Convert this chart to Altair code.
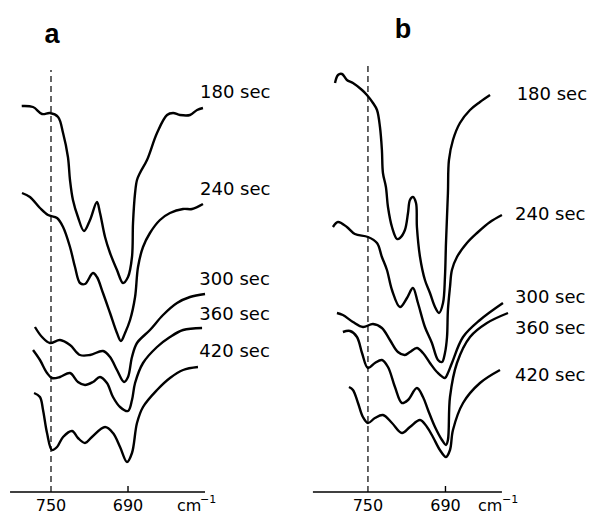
import altair as alt
import pandas as pd

# ---------------- Panel a (wavenumber in cm-1, trace height in arbitrary units) ----------------
a180_wn = [772.8, 764.0, 757.0, 750.8, 744.5, 740.6, 736.8, 735.2, 732.9, 729.0, 724.3, 719.6, 714.2, 711.8, 707.9, 704.0,
           698.6, 693.9, 690.0, 686.9, 686.1, 684.5, 683.0, 680.7, 675.2, 667.4, 659.6, 654.9, 649.5, 641.7, 636.2, 631.6]
a180_h = [386, 385, 378, 379, 375, 359, 335, 312, 292, 275, 261, 272, 290, 279, 255, 239,
          222, 209, 215, 235, 269, 299, 312, 319, 332, 359, 377, 379, 377, 377, 382, 384]

a240_wn = [772.6, 766.4, 758.6, 752.3, 745.3, 740.6, 735.2, 731.3, 727.4, 723.5, 717.3, 714.2, 709.5, 704.0, 698.6, 695.5,
           692.3, 688.4, 684.5, 682.2, 678.3, 672.9, 665.1, 657.3, 647.1, 640.1, 631.6]
a240_h = [299, 295, 284, 277, 274, 265, 245, 225, 209, 208, 219, 215, 199, 179, 159, 151,
          159, 172, 195, 225, 245, 259, 272, 279, 283, 283, 288]

a300_wn = [762.5, 757.0, 750.8, 743.0, 735.2, 727.4, 719.6, 709.5, 704.0, 698.6, 693.1, 690.0, 686.9, 683.0, 672.9,
           662.7, 651.8, 641.7, 630.0]
a300_h = [165, 155, 149, 152, 147, 137, 137, 141, 135, 122, 110, 115, 135, 149, 162, 177, 189, 195, 198]

a360_wn = [764.0, 758.6, 753.1, 749.2, 743.0, 735.2, 729.0, 723.5, 717.3, 711.8, 706.4, 701.7, 696.2, 690.0, 686.9,
           684.5, 678.3, 667.4, 657.3, 647.1, 632.3]
a360_h = [142, 132, 119, 114, 115, 119, 110, 107, 110, 115, 109, 95, 85, 81, 92, 109, 129, 145, 155, 162, 164]

a420_wn = [763.2, 758.6, 756.2, 753.1, 749.2, 745.3, 740.6, 733.6, 729.0, 723.5, 718.1, 707.9, 701.7, 696.2, 690.8,
           686.9, 683.0, 678.3, 667.4, 657.3, 647.1, 635.5]
a420_h = [99, 95, 82, 59, 42, 45, 55, 61, 54, 49, 55, 65, 59, 45, 30, 39, 69, 85, 102, 114, 122, 125]

# ---------------- Panel b ----------------
b180_wn = [775.5, 773.2, 770.1, 766.3, 761.6, 754.6, 750.8, 746.1, 743.0, 740.7, 739.2, 738.4, 736.1, 734.5, 731.4,
           727.5, 725.2, 721.4, 719.0, 717.5, 715.2, 712.8, 712.1, 709.7, 705.9, 702.0, 698.1, 695.0, 691.9, 690.4,
           689.6, 688.1, 687.3, 684.2, 678.8, 671.0, 663.3, 655.5]
b180_h = [409, 417, 418, 412, 409, 402, 397, 389, 382, 365, 342, 319, 305, 285, 265,
          253, 254, 262, 279, 292, 295, 289, 265, 235, 212, 199, 185, 179, 189, 215,
          249, 299, 332, 352, 369, 382, 390, 397]

b240_wn = [777.1, 773.2, 766.3, 760.1, 750.0, 743.0, 739.2, 735.3, 731.4, 725.2, 719.8, 715.2, 711.3, 705.9, 700.5,
           695.8, 692.7, 690.4, 688.8, 688.1, 686.5, 685.0, 681.1, 673.4, 665.6, 655.5, 646.3]
b240_h = [265, 270, 265, 258, 255, 249, 235, 222, 202, 185, 194, 204, 189, 165, 149,
          132, 130, 139, 155, 182, 205, 222, 235, 249, 259, 270, 277]

b300_wn = [774.0, 769.4, 761.6, 753.9, 746.1, 739.2, 733.0, 726.8, 721.4, 717.5, 712.1, 707.4, 702.0, 696.6, 690.4,
           688.1, 685.0, 676.4, 663.3, 645.5]
b300_h = [179, 177, 170, 165, 168, 164, 152, 140, 137, 140, 144, 139, 129, 120, 114, 119, 129, 155, 172, 189]

b360_wn = [769.4, 763.9, 758.5, 754.6, 750.0, 744.6, 739.2, 734.5, 729.1, 723.7, 719.0, 712.1, 707.4, 703.5, 698.1,
           692.7, 689.6, 688.1, 686.5, 681.1, 671.0, 657.9, 641.6]
b360_h = [160, 161, 155, 139, 124, 129, 132, 125, 105, 89, 92, 104, 95, 82, 65, 52, 47, 52, 95, 129, 155, 169, 179]

b420_wn = [764.7, 761.6, 757.7, 753.9, 750.0, 744.6, 738.4, 731.4, 723.7, 717.5, 709.7, 704.3, 699.7, 694.3, 689.6,
           686.5, 684.2, 676.4, 663.3, 647.8]
b420_h = [105, 102, 89, 75, 69, 74, 77, 69, 59, 65, 72, 65, 55, 42, 35, 42, 62, 89, 109, 122]

# ---------------- Labels ----------------
times = ["180 sec", "240 sec", "300 sec", "360 sec", "420 sec"]
a_label_wn = [633.9, 633.9, 634.4, 634.4, 634.4]
a_label_h = [399, 302, 212, 177, 140]
b_label_wn = [634.9, 636.2, 636.2, 636.2, 636.2]
b_label_h = [397, 277, 194, 163, 116]

tick_text = ["750", "690"]
tick_values = [750, 690]
unit_main = "cm"
unit_sup = "−1"

FONT = "DejaVu Sans"


def curves_df(pairs):
    frames = []
    for name, (wn, h) in zip(times, pairs):
        frames.append(pd.DataFrame({"wn": wn, "h": h, "curve": name, "i": range(len(wn))}))
    return pd.concat(frames, ignore_index=True)


def panel(pairs, lab_wn, lab_h, title, title_wn, title_h, domain, width,
          dash_top, base_from, base_to, unit_wn, sup_wn):
    xs = alt.Scale(domain=domain, reverse=True, nice=False, zero=False)
    ys = alt.Scale(domain=[0, 484], nice=False, zero=False)

    def X(f):
        return alt.X(f, scale=xs, axis=None)

    def Y(f):
        return alt.Y(f, scale=ys, axis=None)

    lines = alt.Chart(curves_df(pairs)).mark_line(
        color="black", strokeWidth=2.4, interpolate="catmull-rom", clip=False
    ).encode(x=X("wn:Q"), y=Y("h:Q"), detail="curve:N", order="i:Q")

    dash = alt.Chart(pd.DataFrame({"wn": [750], "h0": [0], "h1": [dash_top]})).mark_rule(
        color="black", strokeWidth=1.2, strokeDash=[6, 4]
    ).encode(x=X("wn:Q"), y=Y("h0:Q"), y2="h1:Q")

    base = alt.Chart(pd.DataFrame({"w0": [base_from], "w1": [base_to], "h": [0]})).mark_rule(
        color="black", strokeWidth=1.4
    ).encode(x=X("w0:Q"), x2="w1:Q", y=Y("h:Q"))

    tick = alt.Chart(pd.DataFrame({"wn": [690], "h0": [0], "h1": [6]})).mark_rule(
        color="black", strokeWidth=1.4
    ).encode(x=X("wn:Q"), y=Y("h0:Q"), y2="h1:Q")

    ticklab = alt.Chart(pd.DataFrame({"wn": tick_values, "h": [-14, -14], "t": tick_text})).mark_text(
        align="center", baseline="middle", fontSize=16, font=FONT, color="black"
    ).encode(x=X("wn:Q"), y=Y("h:Q"), text="t:N")

    unit1 = alt.Chart(pd.DataFrame({"wn": [unit_wn], "h": [-14], "t": [unit_main]})).mark_text(
        align="left", baseline="middle", fontSize=16, font=FONT, color="black"
    ).encode(x=X("wn:Q"), y=Y("h:Q"), text="t:N")

    unit2 = alt.Chart(pd.DataFrame({"wn": [sup_wn], "h": [-8], "t": [unit_sup]})).mark_text(
        align="left", baseline="middle", fontSize=11, font=FONT, color="black"
    ).encode(x=X("wn:Q"), y=Y("h:Q"), text="t:N")

    labels = alt.Chart(pd.DataFrame({"wn": lab_wn, "h": lab_h, "t": times})).mark_text(
        align="left", baseline="middle", fontSize=18, font=FONT, color="black"
    ).encode(x=X("wn:Q"), y=Y("h:Q"), text="t:N")

    ttl = alt.Chart(pd.DataFrame({"wn": [title_wn], "h": [title_h], "t": [title]})).mark_text(
        align="center", baseline="middle", fontSize=27, fontWeight="bold", font="Liberation Sans", color="black"
    ).encode(x=X("wn:Q"), y=Y("h:Q"), text="t:N")

    return alt.layer(lines, dash, base, tick, ticklab, unit1, unit2, labels, ttl).properties(width=width, height=484)


pa = panel([(a180_wn, a180_h), (a240_wn, a240_h), (a300_wn, a300_h), (a360_wn, a360_h), (a420_wn, a420_h)],
           a_label_wn, a_label_h, "a", 749.2, 457, [556.0, 783.5], 292, 422, 781.9, 630.0, 651.8, 633.9)
pb = panel([(b180_wn, b180_h), (b240_wn, b240_h), (b300_wn, b300_h), (b360_wn, b360_h), (b420_wn, b420_h)],
           b_label_wn, b_label_h, "b", 722.9, 462, [578.9, 802.6], 289, 427, 792.6, 646.3, 664.8, 646.3)

chart = alt.hconcat(pa, pb, spacing=0).properties(padding=0).configure_view(stroke=None)
chart.save("out.html", embed_options={"renderer": "svg", "actions": False})
